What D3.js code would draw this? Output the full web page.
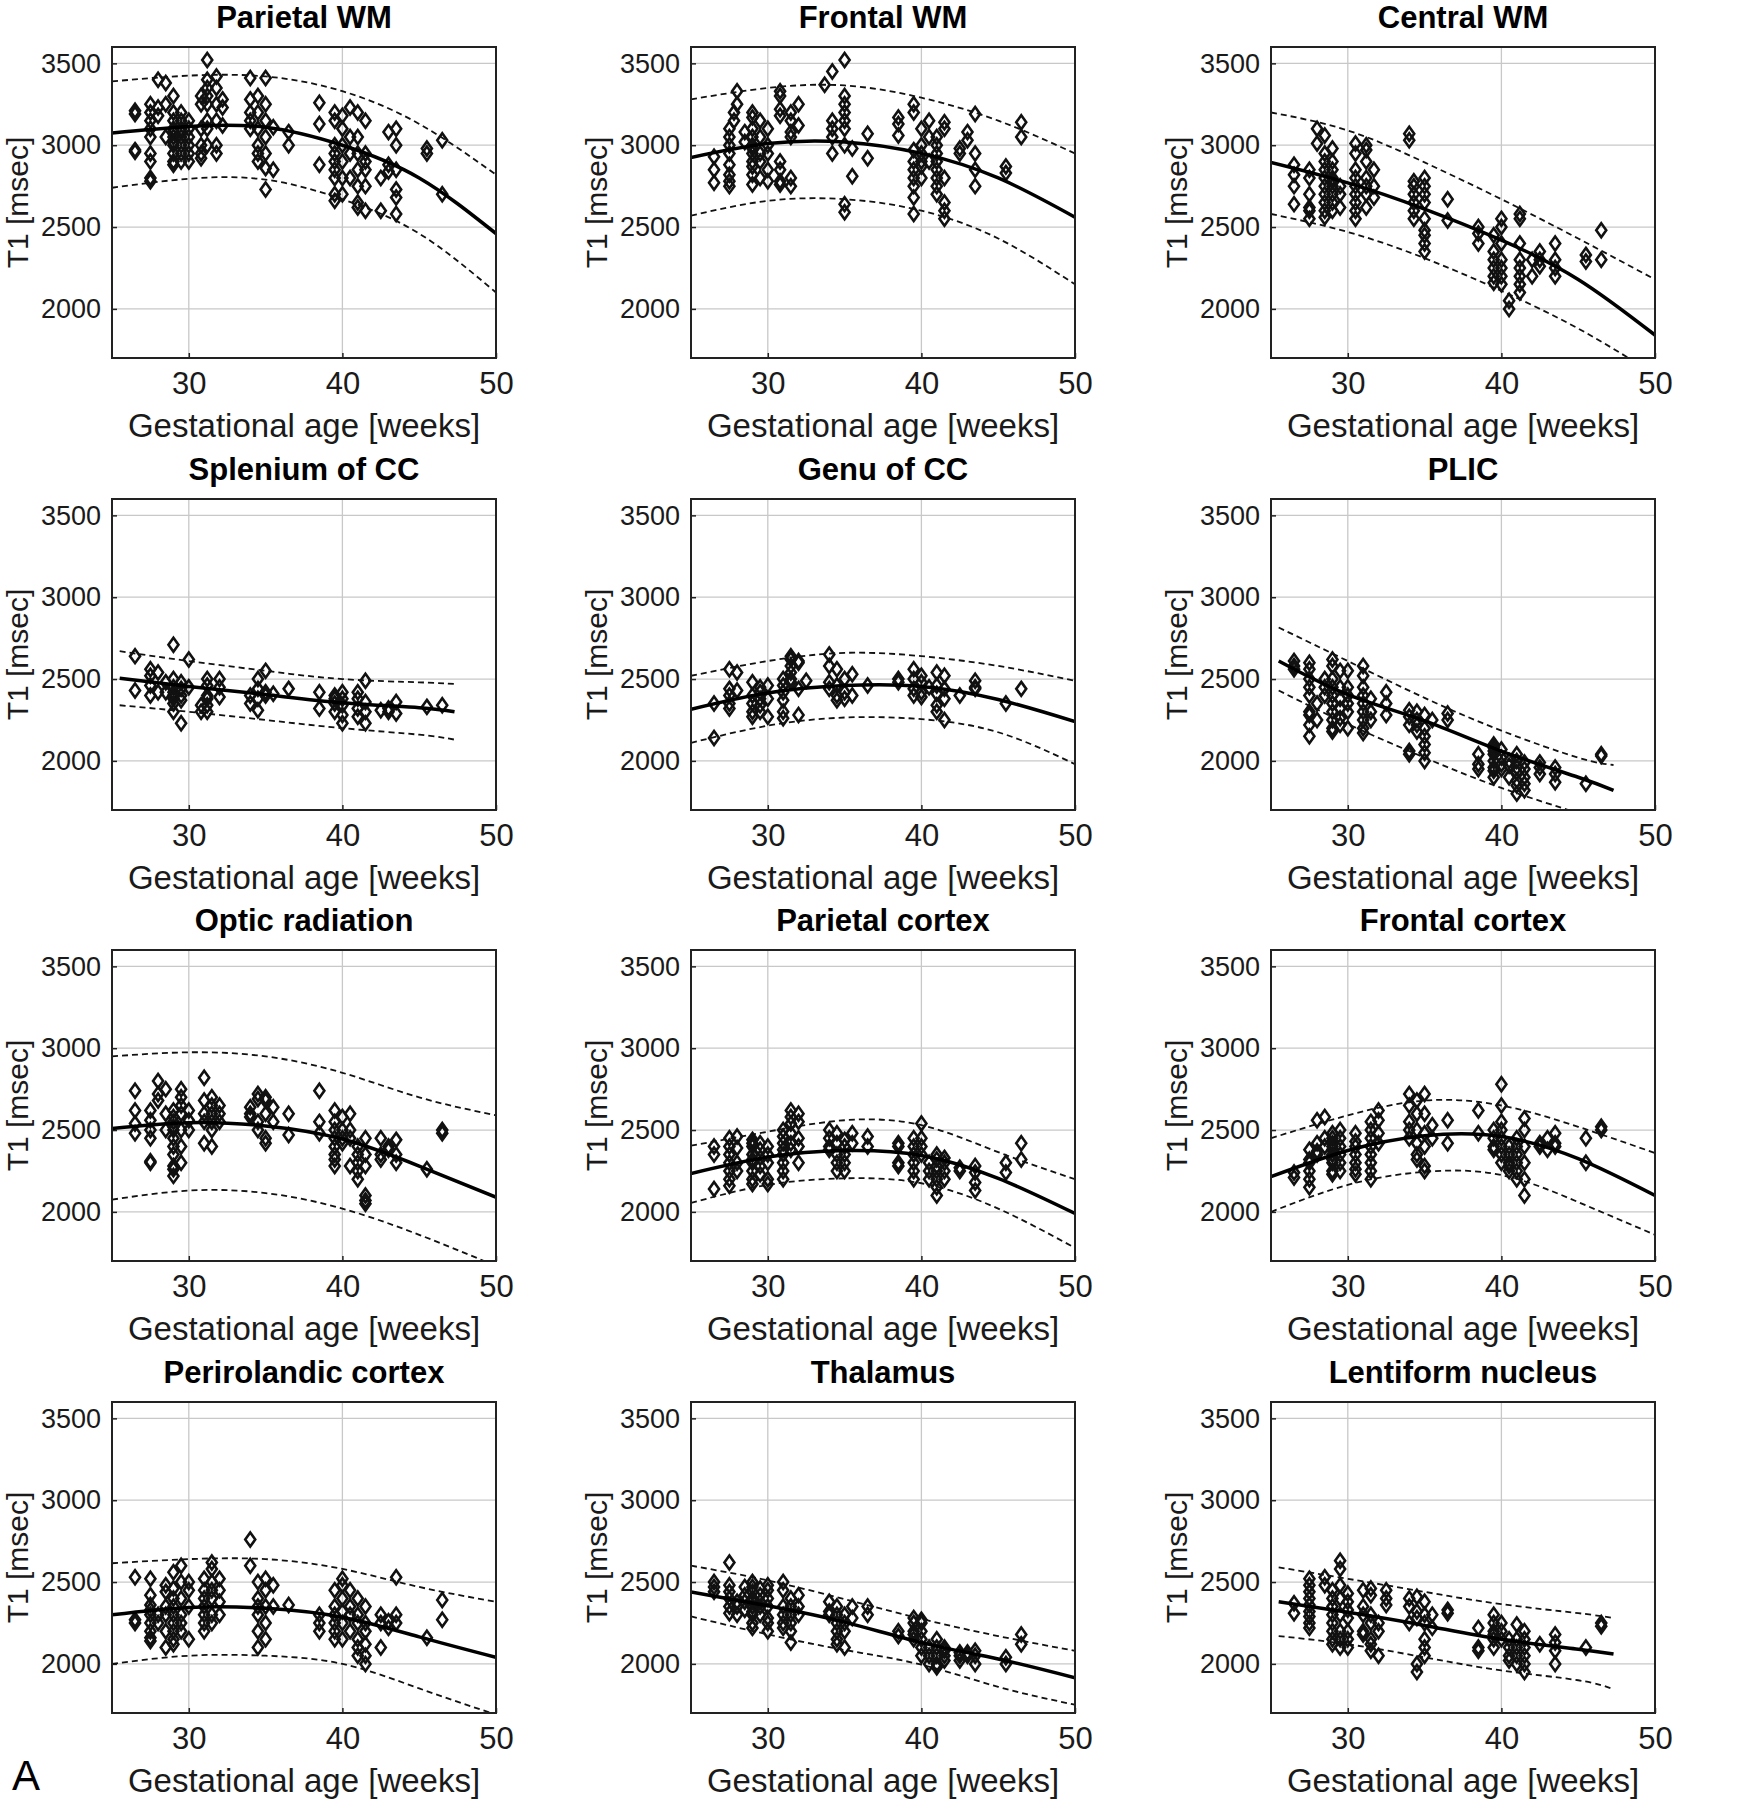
<!DOCTYPE html>
<html><head><meta charset="utf-8">
<script src="https://cdn.jsdelivr.net/npm/d3@7"></script>
<style>body{margin:0;background:#fff}</style>
</head><body><svg id="c" width="1747" height="1800"></svg>
<script>
const titles = ["Parietal WM","Frontal WM","Central WM","Splenium of CC","Genu of CC","PLIC","Optic radiation","Parietal cortex","Frontal cortex","Perirolandic cortex","Thalamus","Lentiform nucleus"];
const xTicks = [30,40,50];
const yTicks = [2000,2500,3000,3500];
const xLabel = "Gestational age [weeks]";
const yLabel = "T1 [msec]";

// fit curves: ages and mean / upper / lower values
const fitAgesFull = [25,30,35,40,45,50];
const fitAgesShort = [25.5,30,35,40,45,47.3];
const fitMean = [
 [3075,3115,3110,3000,2800,2460],[2925,3010,3020,2950,2800,2560],[2895,2770,2610,2420,2180,1840],
 [2505,2455,2405,2355,2325,2300],[2315,2415,2460,2455,2375,2240],[2610,2405,2245,2060,1900,1820],
 [2510,2545,2525,2445,2280,2090],[2235,2335,2375,2345,2205,1990],[2215,2375,2465,2460,2325,2100],
 [2300,2345,2340,2285,2165,2040],[2440,2355,2255,2130,2030,1915],[2380,2315,2235,2150,2090,2060]];
const fitUpper = [
 [3390,3425,3420,3330,3130,2820],[3280,3350,3365,3290,3150,2950],[3200,3090,2895,2670,2430,2180],
 [2670,2610,2550,2500,2480,2470],[2520,2610,2660,2640,2580,2490],[2815,2610,2385,2185,2020,1975],
 [2950,2975,2950,2850,2700,2590],[2405,2490,2560,2530,2365,2200],[2450,2590,2680,2650,2520,2360],
 [2615,2640,2640,2580,2470,2380],[2600,2510,2395,2275,2170,2080],[2590,2520,2440,2365,2310,2280]];
const fitLower = [
 [2740,2795,2790,2670,2460,2100],[2570,2660,2670,2600,2430,2150],[2580,2470,2310,2110,1880,1600],
 [2340,2300,2250,2200,2160,2130],[2110,2215,2265,2255,2175,1980],[2430,2225,2020,1835,1680,1600],
 [2075,2130,2115,2020,1860,1670],[2055,2165,2205,2175,2020,1780],[2000,2165,2245,2225,2060,1860],
 [2000,2050,2050,2000,1850,1690],[2290,2180,2085,1995,1860,1750],[2170,2120,2040,1960,1900,1845]];
const shortFit = [false,false,false,true,false,true,false,false,false,false,false,true];

// observations: [age, [T1 values]]
const parietalWM = [[26.5,[3210,3190,2970,2960]],[27.5,[3250,3200,3150,3100,3050,2950,2900,2800,2780]],[28,[3400,3230,3180]],[28.5,[3380,3250,3050]],[29,[3300,3200,3150,3100,3080,3050,3020,3000,2950,2900,2880]],[29.5,[3200,3150,3100,3080,3050,3000,2950,2900]],[30,[3150,3100,3050,3000,2950,2900]],[30.8,[3300,3250,3100,3000,2950,2920]],[31.2,[3520,3400,3350,3300,3250,3150,3100,3000]],[31.8,[3420,3350,3250,3150,3000,2950]],[32.2,[3280,3230,3120]],[34,[3410,3280,3200,3150,3100]],[34.5,[3300,3200,3100,3000,2950,2900]],[35,[3410,3250,3150,3050,2950,2860,2730]],[35.5,[3110,2850]],[36.5,[3080,3000]],[38.5,[3260,3130,2880]],[39.5,[3200,3150,3000,2950,2900,2850,2800,2700,2660]],[40,[3180,3100,3000,2900,2800,2700]],[40.5,[3230,3050,2950,2800]],[41,[3200,3050,2950,2850,2750,2650,2620]],[41.5,[3150,2950,2900,2850,2750,2600]],[42.5,[2800,2600]],[43,[3080,2880,2840]],[43.5,[3100,3000,2850,2730,2680,2580]],[45.5,[2980,2950]],[46.5,[3030,2700]]];
const frontalWM = [[26.5,[2930,2850,2770]],[27.5,[3100,3050,3000,2950,2880,2820,2780,2750]],[27.8,[3150,3200]],[28,[3330,3250]],[28.5,[3080,3020]],[29,[3100,3050,3000,2980,2950,2900,2870,2820,2760,3200,3170]],[29.5,[3050,2950,2900,2800,3150]],[30,[2950,2850,2780,3100,3000]],[30.8,[3220,3180,3300,3330,2900,2850,2780,2760]],[31.5,[3150,3080,3050,2800,2750,3200]],[32,[3250,3120]],[33.7,[3370]],[34.2,[3450,3150,3100,3050,2950]],[35,[3520,3300,3200,3150,3100,3000,2640,2590,3250]],[35.5,[2980,2810]],[36.5,[3070,2920]],[38.5,[3170,3130,3060]],[39.5,[3250,3200,2970,2900,2850,2800,2750,2680,2580]],[40,[3100,3000,2950,2900,2870,2800]],[40.5,[3050,2900,3150]],[41,[3050,3000,2950,2900,2850,2800,2750,2700]],[41.5,[3140,3100,2800,2650,2600,2550]],[42.5,[2980,2950]],[43,[3080,3030]],[43.5,[3190,2950,2850,2750]],[45.5,[2870,2830]],[46.5,[3140,3050]]];
const centralWM = [[26.5,[2880,2820,2750,2640]],[27.5,[2850,2800,2700,2620,2600,2550]],[28,[3100,3010]],[28.5,[3060,2950,2900,2850,2800,2750,2700,2650,2600,2560]],[29,[2980,2900,2850,2800,2780,2750,2700,2650,2600]],[29.5,[2750,2700,2620]],[30.5,[3010,2950,2850,2800,2750,2700,2650,2600,2550]],[31.2,[3000,2970,2900,2800,2750,2700,2620]],[31.7,[2850,2750,2680]],[34,[3030,3070]],[34.3,[2780,2750,2700,2650,2600,2550]],[35,[2800,2750,2700,2650,2550,2480,2450,2400,2350]],[36.5,[2670,2540]],[38.5,[2500,2460,2400]],[39.5,[2450,2350,2300,2250,2200,2160]],[40,[2550,2500,2400,2300,2250,2200,2150]],[40.5,[2050,2000]],[41.2,[2580,2550,2400,2300,2250,2200,2150,2100]],[42,[2300,2200]],[42.5,[2350,2300,2260]],[43.5,[2400,2300,2250,2200]],[45.5,[2330,2290]],[46.5,[2480,2300]]];
const spleniumCC = [[26.5,[2640,2430]],[27.5,[2560,2520,2460,2400]],[28,[2540,2420]],[28.5,[2480,2420]],[29,[2710,2500,2450,2420,2400,2380,2350,2300]],[29.5,[2480,2440,2400,2370,2230]],[30,[2620,2450]],[30.8,[2340,2300]],[31.2,[2500,2460,2400,2380,2340,2300]],[32,[2500,2450,2390]],[34,[2400,2350]],[34.5,[2500,2440,2380,2310]],[35,[2550,2420,2400]],[35.5,[2410]],[36.5,[2440]],[38.5,[2420,2320]],[39.5,[2400,2380,2350,2300]],[40,[2420,2380,2340,2280,2230]],[41,[2420,2380,2320,2270]],[41.5,[2490,2360,2300,2230]],[42.5,[2310]],[43,[2300,2320]],[43.5,[2360,2290]],[45.5,[2330]],[46.5,[2340]]];
const genuCC = [[26.5,[2350,2140]],[27.5,[2560,2440,2400,2350,2320]],[28,[2540,2430]],[29,[2480,2400,2350,2300,2270]],[29.5,[2450,2420,2380,2340,2300]],[30,[2460,2380,2270]],[31,[2500,2460,2420,2370,2300,2260]],[31.5,[2640,2620,2580,2540,2500,2480]],[32,[2610,2600,2440,2280]],[32.5,[2490]],[34,[2650,2580,2480,2440]],[34.5,[2560,2460,2400,2370]],[35,[2500,2420,2380]],[35.5,[2530,2400]],[36.5,[2460]],[38.5,[2500,2480]],[39.5,[2560,2500,2440,2400]],[40,[2520,2480,2420,2390]],[40.5,[2450]],[41,[2540,2460,2410,2340,2300]],[41.5,[2520,2440,2380,2250]],[42.5,[2400]],[43.5,[2490,2450,2440]],[45.5,[2350]],[46.5,[2440]]];
const plic = [[26.5,[2610,2580,2560]],[27.5,[2600,2560,2500,2450,2400,2280,2220,2150,2300]],[28,[2350,2250]],[28.5,[2500,2450,2400]],[29,[2620,2580,2500,2450,2400,2350,2300,2250,2200,2180]],[29.5,[2550,2450,2380,2320,2260,2220]],[30,[2550,2450,2400,2350,2300,2200]],[31,[2580,2520,2450,2400,2350,2300,2250,2200,2170]],[31.5,[2380,2300,2250]],[32.5,[2420,2350,2280]],[34,[2310,2270,2220,2060,2040]],[34.5,[2300,2250,2220,2180]],[35,[2280,2200,2150,2100,2050,2000]],[35.5,[2250]],[36.5,[2290,2250]],[38.5,[2040,1950,1980]],[39.5,[2100,2080,2060,2040,2000,1960,1940,1900]],[40,[2070,2020,1980,1950]],[40.5,[2000,1970,1900]],[41,[2040,2000,1960,1930,1880,1850,1800]],[41.5,[1990,1950,1900,1860,1820]],[42.5,[1990,1960,1920]],[43.5,[1960,1920,1870]],[45.5,[1860]],[46.5,[2030,2040]]];
const opticRad = [[26.5,[2740,2620,2540,2480]],[27.5,[2620,2560,2500,2450,2300,2310]],[28,[2800,2720,2680]],[28.5,[2750,2600,2500]],[29,[2620,2580,2550,2520,2500,2450,2400,2350,2280,2220,2260]],[29.5,[2750,2700,2650,2600,2500,2400,2300]],[30,[2620,2560,2500]],[31,[2820,2680,2600,2550,2420]],[31.5,[2700,2650,2600,2550,2500,2400]],[32,[2650,2600,2550]],[34,[2640,2600,2580]],[34.5,[2720,2690,2550,2500]],[35,[2700,2680,2600,2420,2450]],[35.5,[2640,2550]],[36.5,[2600,2470]],[38.5,[2740,2550,2480]],[39.5,[2620,2550,2500,2450,2400,2350,2320,2280]],[40,[2580,2500,2450,2420]],[40.5,[2600,2500,2450,2280]],[41,[2400,2350,2300,2250,2200]],[41.5,[2450,2350,2280,2100,2050,2070]],[42.5,[2450,2350,2320]],[43,[2400,2380]],[43.5,[2440,2350,2300]],[45.5,[2260]],[46.5,[2500,2480]]];
const parietalCx = [[26.5,[2400,2350,2140]],[27.5,[2450,2400,2350,2300,2250,2200,2160]],[28,[2460,2390,2300,2250]],[29,[2440,2420,2400,2350,2320,2300,2250,2200,2170]],[29.5,[2420,2380,2330,2280,2230]],[30,[2400,2350,2300,2200,2170]],[31,[2500,2460,2420,2380,2350,2300,2250,2200]],[31.5,[2620,2580,2540,2480,2420,2380]],[32,[2600,2550,2450,2400,2300]],[34,[2500,2450,2400,2380]],[34.5,[2480,2420,2350,2300,2250]],[35,[2440,2400,2350,2300,2250]],[35.5,[2480,2420]],[36.5,[2460,2400]],[38.5,[2420,2400,2300,2280]],[39.5,[2450,2400,2350,2300,2250,2200]],[40,[2540,2450,2400,2350]],[40.5,[2300,2250,2200]],[41,[2350,2320,2280,2250,2200,2150,2100]],[41.5,[2330,2300,2250,2200]],[42.5,[2270,2250]],[43.5,[2280,2240,2180,2130]],[45.5,[2300,2240]],[46.5,[2420,2320]]];
const frontalCx = [[26.5,[2240,2210]],[27.5,[2380,2320,2300,2250,2200,2150]],[28,[2560,2420,2370,2350]],[28.5,[2580,2450,2400]],[29,[2480,2450,2420,2400,2380,2350,2320,2300,2250,2230]],[29.5,[2500,2450,2400,2350,2300,2250]],[30.5,[2480,2430,2400,2350,2300,2260,2230]],[31.5,[2550,2500,2450,2400,2350,2300,2250,2200]],[32,[2620,2560,2480,2420]],[34,[2720,2650,2550,2500,2450]],[34.5,[2680,2600,2500,2420,2350,2320]],[35,[2720,2600,2480,2400,2280,2250]],[35.5,[2530,2450]],[36.5,[2560,2420]],[38.5,[2620,2480]],[39.5,[2500,2450,2400,2380]],[40,[2780,2650,2550,2500,2450,2400,2350,2300]],[40.5,[2400,2350,2300,2280,2250]],[41,[2450,2400,2350,2300,2250,2200]],[41.5,[2570,2500,2400,2300,2200,2100]],[42.5,[2420,2400]],[43,[2450,2380]],[43.5,[2480,2420,2400]],[45.5,[2450,2300]],[46.5,[2520,2500]]];
const perirolandic = [[26.5,[2530,2270,2250]],[27.5,[2520,2420,2360,2330,2300,2250,2200,2160,2140]],[28,[2300,2250]],[28.5,[2480,2440,2350,2300,2200,2100]],[29,[2560,2460,2400,2350,2300,2250,2200,2150,2120]],[29.5,[2600,2500,2400,2300,2250,2200]],[30,[2500,2450,2350,2150]],[31,[2520,2450,2400,2350,2300,2250,2200]],[31.5,[2620,2580,2500,2450,2400,2300,2250]],[32,[2520,2450,2380,2300]],[34,[2760,2600]],[34.5,[2500,2400,2350,2300,2200,2100]],[35,[2520,2450,2350,2250,2150]],[35.5,[2480,2350]],[36.5,[2360]],[38.5,[2300,2250,2200]],[39.5,[2450,2350,2300,2250,2200,2150]],[40,[2520,2480,2400,2320,2250,2150]],[40.5,[2450,2350,2300,2200]],[41,[2400,2300,2250,2150,2100,2050]],[41.5,[2350,2250,2200,2120,2050,2000]],[42.5,[2300,2250,2100]],[43,[2260,2220]],[43.5,[2530,2300,2250]],[45.5,[2160]],[46.5,[2390,2270]]];
const thalamus = [[26.5,[2500,2470,2440]],[27.5,[2620,2480,2440,2400,2350,2310]],[28,[2380,2350,2300]],[28.5,[2470,2420,2380,2330]],[29,[2500,2470,2440,2400,2380,2350,2320,2300,2250,2220]],[29.5,[2460,2420,2380,2350,2300]],[30,[2480,2450,2400,2350,2280,2250,2200]],[31,[2500,2450,2350,2300,2250,2220]],[31.5,[2400,2350,2300,2250,2200,2130]],[32,[2420,2350,2300]],[34,[2380,2320,2300]],[34.5,[2350,2300,2250,2200,2150,2120]],[35,[2300,2250,2200,2100]],[35.5,[2350,2280]],[36.5,[2350,2300]],[38.5,[2200,2170]],[39.5,[2280,2250,2200,2180,2150]],[40,[2270,2250,2200,2150,2100,2050]],[40.5,[2100,2050,2000]],[41,[2150,2100,2050,2000,1980]],[41.5,[2100,2080,2050,2020]],[42.5,[2070,2050,2020]],[43,[2070,2050]],[43.5,[2080,2050,2000]],[45.5,[2040,2000]],[46.5,[2180,2120]]];
const lentiform = [[26.5,[2370,2310]],[27.5,[2520,2480,2440,2400,2360,2320,2290,2250,2220]],[28.5,[2530,2480]],[29,[2450,2400,2350,2300,2250,2200,2150,2120]],[29.5,[2630,2580,2480,2400,2300,2200,2150,2100]],[30,[2430,2380,2330,2280,2200,2150,2100]],[31,[2450,2350,2300,2200,2180]],[31.5,[2460,2420,2300,2250,2150,2120,2080]],[32,[2250,2200,2050]],[32.5,[2450,2400,2360]],[34,[2400,2350,2250]],[34.5,[2410,2320,2280,2000,1950]],[35,[2380,2300,2250,2150,2100,2050]],[35.5,[2300,2220]],[36.5,[2330,2310]],[38.5,[2220,2100,2080]],[39.5,[2300,2250,2200,2180,2150,2100]],[40,[2250,2200,2150]],[40.5,[2150,2100,2050,2020]],[41,[2240,2150,2100,2050,2000]],[41.5,[2200,2150,2100,2050,2000,1950]],[42.5,[2120]],[43.5,[2180,2130,2080,2000]],[45.5,[2100]],[46.5,[2250,2230]]];
const panelData = [parietalWM,frontalWM,centralWM,spleniumCC,genuCC,plic,opticRad,parietalCx,frontalCx,perirolandic,thalamus,lentiform];

const svg = d3.select("#c");
const font = "'Liberation Sans', Arial, sans-serif";
const colX = [112,691,1271], rowY = [47,499,950,1402];
const W = 384, H = 311;
const x = d3.scaleLinear().domain([25,50]).range([0,W]);
const y = d3.scaleLinear().domain([1700,3600]).range([H,0]);
const diamond = "M0,-7L5,0L0,7L-5,0Z";

titles.forEach((t,i)=>{
  const g = svg.append("g").attr("transform",`translate(${colX[i%3]},${rowY[Math.floor(i/3)]})`);
  g.append("clipPath").attr("id","cl"+i).append("rect").attr("width",W).attr("height",H);
  g.selectAll(".gx").data(xTicks).join("line").attr("x1",d=>x(d)).attr("x2",d=>x(d)).attr("y1",0).attr("y2",H).attr("stroke","#c8c8c8").attr("stroke-width",1.3);
  g.selectAll(".gy").data(yTicks).join("line").attr("y1",d=>y(d)).attr("y2",d=>y(d)).attr("x1",0).attr("x2",W).attr("stroke","#c8c8c8").attr("stroke-width",1.3);
  const xa = g.append("g").attr("transform",`translate(0,${H})`).call(d3.axisBottom(x).tickValues(xTicks).tickFormat(d3.format("d")).tickSize(-5).tickPadding(14));
  const ya = g.append("g").call(d3.axisLeft(y).tickValues(yTicks).tickFormat(d3.format("d")).tickSize(-5).tickPadding(11));
  [xa,ya].forEach(a=>{a.select(".domain").remove(); a.selectAll("line").attr("stroke","#222").attr("stroke-width",1.5);});
  xa.selectAll("text").attr("font-family",font).attr("font-size",31).attr("fill","#1a1a1a").attr("dy","0.72em");
  ya.selectAll("text").attr("font-family",font).attr("font-size",27).attr("fill","#1a1a1a");
  const pts = panelData[i].flatMap(([a,vs])=>vs.map(v=>[a,v]));
  const pg = g.append("g").attr("clip-path",`url(#cl${i})`);
  pg.selectAll("path.p").data(pts).join("path").attr("d",diamond)
    .attr("transform",d=>`translate(${x(d[0])},${y(d[1])})`)
    .attr("fill","none").attr("stroke","#111").attr("stroke-width",2.6);
  const ages = shortFit[i] ? fitAgesShort : fitAgesFull;
  const line = d3.line().x(d=>x(d[0])).y(d=>y(d[1])).curve(d3.curveNatural);
  const mk = arr => ages.map((a,k)=>[a,arr[k]]);
  pg.append("path").attr("d",line(mk(fitUpper[i]))).attr("fill","none").attr("stroke","#111").attr("stroke-width",1.8).attr("stroke-dasharray","6,4");
  pg.append("path").attr("d",line(mk(fitLower[i]))).attr("fill","none").attr("stroke","#111").attr("stroke-width",1.8).attr("stroke-dasharray","6,4");
  pg.append("path").attr("d",line(mk(fitMean[i]))).attr("fill","none").attr("stroke","#000").attr("stroke-width",3.5);
  g.append("rect").attr("width",W).attr("height",H).attr("fill","none").attr("stroke","#222").attr("stroke-width",2);
  g.append("text").attr("x",W/2).attr("y",-19).attr("text-anchor","middle").attr("font-family",font).attr("font-weight","bold").attr("font-size",31).text(t);
  g.append("text").attr("x",W/2).attr("y",H+79).attr("text-anchor","middle").attr("font-family",font).attr("font-size",33).attr("fill","#1a1a1a").text(xLabel);
  g.append("text").attr("transform",`translate(-84,${H/2}) rotate(-90)`).attr("text-anchor","middle").attr("font-family",font).attr("font-size",30).attr("fill","#1a1a1a").text(yLabel);
});
svg.append("text").attr("x",12).attr("y",1790).attr("font-family",font).attr("font-size",42).text("A");
</script></body></html>
